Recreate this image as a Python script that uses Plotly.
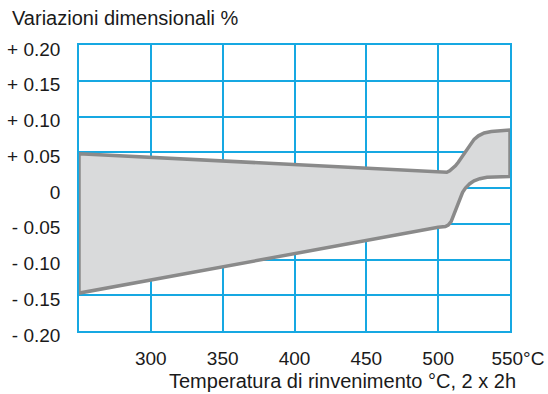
import plotly.graph_objects as go

# Data
temp_upper = [250, 503, 506, 508, 510, 512, 514, 516, 519, 522, 525, 528, 532, 537, 543, 550]
var_upper = [0.048, 0.022, 0.022, 0.024, 0.027, 0.031, 0.036, 0.042, 0.052, 0.061, 0.068, 0.073, 0.077, 0.079, 0.080, 0.081]

temp_lower = [250, 500, 505, 507, 509, 511, 513, 515, 517, 519, 522, 525, 529, 534, 541, 550]
var_lower = [-0.147, -0.055, -0.054, -0.052, -0.047, -0.039, -0.028, -0.016, -0.006, 0.000, 0.006, 0.010, 0.013, 0.015, 0.016, 0.016]

x_ticks = [300, 350, 400, 450, 500, 550]
x_tick_text = ["300", "350", "400", "450", "500", "\u00a0\u00a0\u00a0550°C"]
y_ticks = [0.20, 0.15, 0.10, 0.05, 0.0, -0.05, -0.10, -0.15, -0.20]
y_tick_text = ["+ 0.20", "+ 0.15", "+ 0.10", "+ 0.05", "0", "- 0.05", "- 0.10", "- 0.15", "- 0.20"]

y_title = "Variazioni dimensionali %"
x_title = "Temperatura di rinvenimento °C, 2 x 2h"

poly_x = temp_upper + temp_lower[::-1] + [temp_upper[0]]
poly_y = var_upper + var_lower[::-1] + [var_upper[0]]

grid = "#16a8e2"
font = "Liberation Sans, Arial, Helvetica, sans-serif"

fig = go.Figure()
fig.add_trace(go.Scatter(
    x=poly_x, y=poly_y, mode="lines", fill="toself",
    fillcolor="#d9dadb",
    line=dict(color="#8a8a8a", width=3.5),
    hoverinfo="skip", showlegend=False,
))

fig.update_layout(
    width=548, height=394,
    margin=dict(l=79, r=38, t=45, b=63, autoexpand=False),
    paper_bgcolor="white", plot_bgcolor="white",
    font=dict(family=font, size=19, color="#1a1a1a"),
    showlegend=False,
    xaxis=dict(
        range=[250, 550], tickvals=x_ticks, ticktext=x_tick_text,
        showgrid=True, gridcolor=grid, gridwidth=1.5,
        showline=True, linecolor=grid, linewidth=1.5, mirror=True,
        zeroline=False, ticks="", ticklen=0, layer="below traces",
        automargin=False, ticklabelstandoff=9,
    ),
    yaxis=dict(
        range=[-0.2, 0.2], tickvals=y_ticks, ticktext=y_tick_text,
        showgrid=True, gridcolor=grid, gridwidth=1.5,
        showline=True, linecolor=grid, linewidth=1.5, mirror=True,
        zeroline=False, ticks="", ticklen=0, layer="below traces",
        ticklabelstandoff=13, ticklabelshift=4, automargin=False,
    ),
    annotations=[
        dict(text=y_title, xref="paper", yref="paper",
             x=-0.160, y=1.094, xanchor="left", yanchor="middle",
             showarrow=False, font=dict(size=20)),
        dict(text=x_title, xref="paper", yref="paper",
             x=0.6125, y=-0.175, xanchor="center", yanchor="middle",
             showarrow=False, font=dict(size=20)),
    ],
)

fig.write_html(
    "out.html",
    config={"displayModeBar": False},
    post_script="document.body.style.margin='0';document.body.style.overflow='hidden';",
)
